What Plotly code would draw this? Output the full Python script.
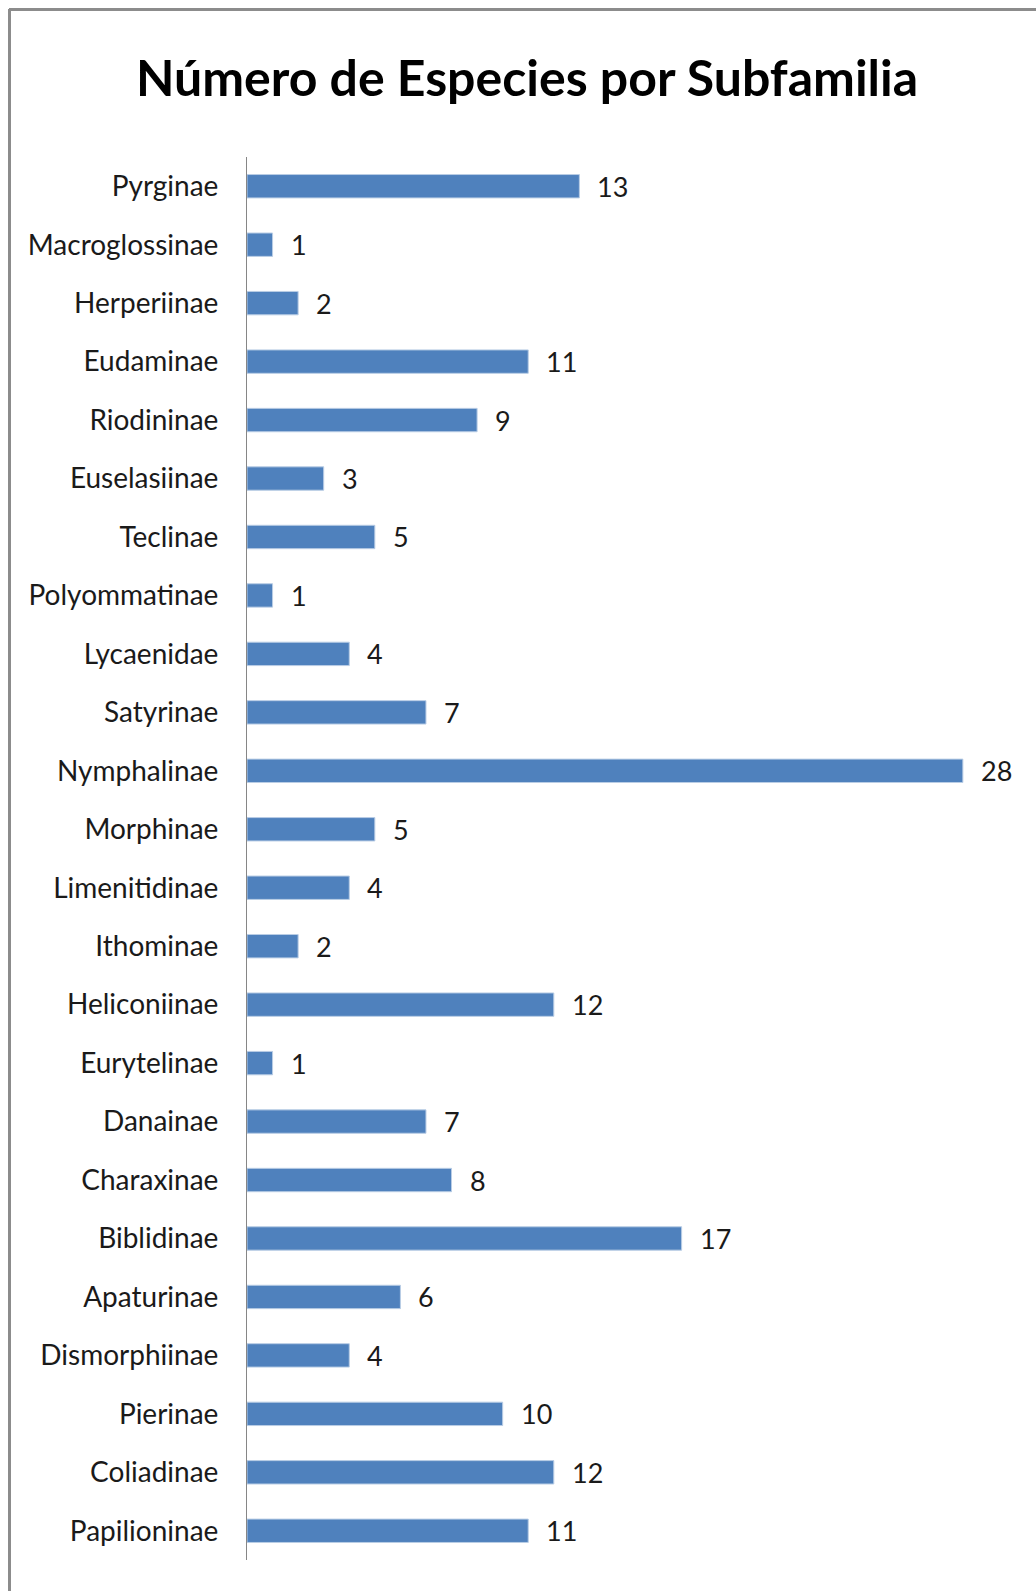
import plotly.graph_objects as go

categories = ["Pyrginae", "Macroglossinae", "Herperiinae", "Eudaminae", "Riodininae",
              "Euselasiinae", "Teclinae", "Polyommatinae", "Lycaenidae", "Satyrinae",
              "Nymphalinae", "Morphinae", "Limenitidinae", "Ithominae", "Heliconiinae",
              "Eurytelinae", "Danainae", "Charaxinae", "Biblidinae", "Apaturinae",
              "Dismorphiinae", "Pierinae", "Coliadinae", "Papilioninae"]
values = [13, 1, 2, 11, 9, 3, 5, 1, 4, 7, 28, 5, 4, 2, 12, 1, 7, 8, 17, 6, 4, 10, 12, 11]
title_text = "Número de Especies por Subfamilia"

W, H = 1036, 1591
ML, MR, MT, MB = 247, 22, 157, 31
PW, PH = W - ML - MR, H - MT - MB

FONT = "Lato"

fig = go.Figure()
fig.add_trace(go.Bar(
    x=values, y=categories, orientation="h",
    marker=dict(color="#4F81BD", line=dict(color="#B9CDE5", width=1)),
    hoverinfo="x+y",
))

for cat, v in zip(categories, values):
    fig.add_annotation(x=v, y=cat, text=str(v), showarrow=False,
                       xanchor="left", yanchor="middle", xshift=16, yshift=0,
                       font=dict(family=FONT, size=27, color="#1a1a1a"))

def px_to_paper_x(px):
    return (px - ML) / PW

def px_to_paper_y(py):
    return (H - MB - py) / PH

frame = dict(color="#8C8C8C", width=3)
fig.add_shape(type="line", xref="paper", yref="paper",
              x0=px_to_paper_x(9), x1=px_to_paper_x(W + 5),
              y0=px_to_paper_y(9.5), y1=px_to_paper_y(9.5), line=frame)
fig.add_shape(type="line", xref="paper", yref="paper",
              x0=px_to_paper_x(9.5), x1=px_to_paper_x(9.5),
              y0=px_to_paper_y(9), y1=px_to_paper_y(H + 5), line=frame)

n = len(categories)
fig.update_layout(
    width=W, height=H,
    margin=dict(l=ML, r=MR, t=MT, b=MB, pad=0),
    paper_bgcolor="white", plot_bgcolor="white",
    showlegend=False,
    bargap=0.6,
    title=dict(text="<b>" + title_text + "</b>", x=527 / W, xanchor="center",
               y=1 - 78 / H, yanchor="middle", yref="container",
               font=dict(family=FONT, size=50, color="#000000")),
    xaxis=dict(range=[0, 30], visible=False, showgrid=False, zeroline=False),
    yaxis=dict(range=[n - 0.5, -0.5], showgrid=False, zeroline=False,
               showline=True, linecolor="#868686", linewidth=1,
               ticks="", ticklabelstandoff=22,
               categoryorder="array", categoryarray=categories,
               tickfont=dict(family=FONT, size=28, color="#1a1a1a")),
)

fig.write_html("out.html")
